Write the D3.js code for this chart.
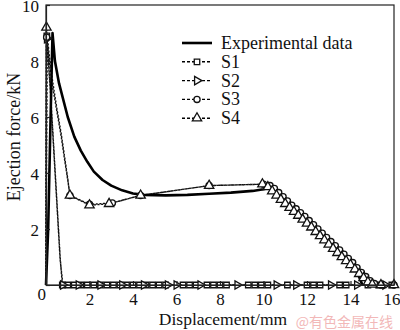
<!DOCTYPE html>
<html>
<head>
<meta charset="utf-8">
<script src="https://cdn.jsdelivr.net/npm/d3@7/dist/d3.min.js"></script>
<style>
  html, body { margin: 0; padding: 0; background: #fff; }
  svg { display: block; }
  text { font-family: "Liberation Serif", "Times New Roman", serif; fill: #111; }
</style>
</head>
<body>
<svg id="chart" width="400" height="330"></svg>
<script>
// Ejection force vs displacement: measured curve and four simulated schemes
const xTicks = [0, 2, 4, 6, 8, 10, 12, 14, 16];
const yTicks = [0, 2, 4, 6, 8, 10];

const expX = [0, 0.1, 0.2, 0.3, 0.41, 0.6, 1.0, 1.3, 1.6, 1.9, 2.2, 2.6, 3.0, 3.5, 4.0, 4.5, 5.5, 6.5, 7.5, 8.5, 9.5, 10.0, 10.4, 11.0, 12.0, 13.0, 13.7, 14.2, 14.55];
const expY = [0, 2.0, 5.6, 9.0, 8.0, 7.2, 6.0, 5.3, 4.8, 4.4, 4.05, 3.75, 3.55, 3.38, 3.27, 3.22, 3.2, 3.22, 3.26, 3.3, 3.36, 3.42, 3.5, 3.1, 2.4, 1.65, 1.15, 0.65, 0];

const s1X = [0, 0.04, 0.2, 0.35, 0.5, 0.65, 0.75, 1.0, 1.3, 1.6, 1.9, 2.2, 2.5, 2.8, 3.1, 3.4, 3.7, 4.0, 4.3, 4.6, 4.9, 5.2, 5.5, 6.3, 6.6, 6.9, 7.4, 7.7, 8.0, 8.3, 9.3, 9.6, 9.9, 10.2, 11.1, 12.0, 12.3, 12.6, 13.5, 13.8, 14.8, 15.3, 15.9];
const s1Y = [0, 8.9, 7.0, 5.0, 3.0, 1.0, 0, 0, 0, 0, 0, 0, 0, 0, 0, 0, 0, 0, 0, 0, 0, 0, 0, 0, 0, 0, 0, 0, 0, 0, 0, 0, 0, 0, 0, 0, 0, 0, 0, 0, 0, 0, 0];

const s2X = [0, 0.04, 0.2, 0.35, 0.5, 0.65, 0.78, 1.5, 2.5, 3.5, 4.5, 5.6, 6.0, 7.1, 8.8, 10.6, 11.5, 13.1, 14.3, 15.6];
const s2Y = [0, 8.8, 6.9, 4.9, 2.9, 0.9, 0, 0, 0, 0, 0, 0, 0, 0, 0, 0, 0, 0, 0, 0];

const s3X = [0, 0.03, 0.15, 0.3, 0.5, 0.7, 0.85, 1.0, 1.1, 2.0, 3.05, 4.35, 7.5, 10.0, 10.3, 10.5, 10.7, 10.9, 11.1, 11.3, 11.5, 11.7, 11.9, 12.1, 12.3, 12.5, 12.7, 12.9, 13.1, 13.3, 13.5, 13.7, 13.9, 14.1, 14.3, 14.5, 14.7, 14.9, 15.1, 15.4, 16.0];
const s3Y = [0, 8.85, 8.0, 7.1, 6.2, 5.3, 4.5, 3.75, 3.2, 2.88, 2.93, 3.2, 3.55, 3.6, 3.55, 3.45, 3.3, 3.15, 3.0, 2.85, 2.72, 2.58, 2.45, 2.3, 2.15, 2.0, 1.85, 1.7, 1.55, 1.4, 1.25, 1.1, 0.95, 0.8, 0.62, 0.45, 0.3, 0.15, 0.05, 0, 0];

const s4X = [0, 0.02, 0.15, 0.3, 0.5, 0.7, 0.85, 1.0, 1.1, 2.0, 2.9, 4.35, 7.5, 9.95, 10.2, 10.4, 10.6, 10.8, 11.0, 11.2, 11.4, 11.6, 11.8, 12.0, 12.2, 12.4, 12.6, 12.8, 13.0, 13.2, 13.4, 13.6, 13.8, 14.0, 14.2, 14.4, 14.6, 14.8, 15.0, 15.4, 16.0];
const s4Y = [0, 9.2, 8.2, 7.3, 6.3, 5.4, 4.6, 3.8, 3.2, 2.85, 2.9, 3.2, 3.55, 3.6, 3.5, 3.35, 3.2, 3.05, 2.9, 2.76, 2.62, 2.48, 2.34, 2.2, 2.06, 1.9, 1.75, 1.6, 1.45, 1.3, 1.15, 1.0, 0.86, 0.72, 0.56, 0.4, 0.25, 0.1, 0.02, 0, 0];

const seriesNames = ["S1", "S2", "S3", "S4"];
const expName = "Experimental data";
const xTitle = "Displacement/mm";
const yTitle = "Ejection force/kN";
const credit = "@有色金属在线";

const svg = d3.select("#chart");
const x = d3.scaleLinear().domain([0, 16]).range([46, 394]);
const y = d3.scaleLinear().domain([0, 10]).range([285, 5]);

const zip = (xs, ys) => xs.map((v, i) => [v, ys[i]]);
const line = d3.line().x(d => x(d[0])).y(d => y(d[1]));

// marker shapes per simulated scheme
const shapes = {
  S1: d3.symbol().type(d3.symbolSquare).size(30),
  S2: d3.symbol().type(d3.symbolTriangle).size(30),
  S3: d3.symbol().type(d3.symbolCircle).size(30),
  S4: d3.symbol().type(d3.symbolTriangle).size(38)
};
const rotation = { S1: 0, S2: 90, S3: 0, S4: 0 };

// markers are shown on the peak and on the recorded points after the initial drop
const sims = [
  { name: "S1", pts: zip(s1X, s1Y), markFrom: 0.7 },
  { name: "S2", pts: zip(s2X, s2Y), markFrom: 0.7 },
  { name: "S3", pts: zip(s3X, s3Y), markFrom: 1.05 },
  { name: "S4", pts: zip(s4X, s4Y), markFrom: 1.05 }
];

// dotted simulation curves
sims.forEach(s => {
  svg.append("path").datum(s.pts)
    .attr("d", line).attr("fill", "none")
    .attr("stroke", "#111").attr("stroke-width", 1.4)
    .attr("stroke-dasharray", "2,1.6");
});

// measured curve
svg.append("path").datum(zip(expX, expY))
  .attr("d", line).attr("fill", "none")
  .attr("stroke", "#000").attr("stroke-width", 2.6)
  .attr("stroke-linejoin", "round");

sims.forEach(s => {
  const peak = d3.maxIndex(s.pts, d => d[1]);
  const marked = s.pts.filter((d, i) => i === peak || d[0] >= s.markFrom);
  svg.append("g").selectAll("path").data(marked).join("path")
    .attr("d", shapes[s.name])
    .attr("transform", d => `translate(${x(d[0])},${y(d[1])}) rotate(${rotation[s.name]})`)
    .attr("fill", "#fff").attr("stroke", "#111").attr("stroke-width", 1.3);
});

// frame
svg.append("rect")
  .attr("x", x(0)).attr("y", y(10))
  .attr("width", x(16) - x(0)).attr("height", y(0) - y(10))
  .attr("fill", "none").attr("stroke", "#222").attr("stroke-width", 1.2);

// axes with inward ticks
const xAxis = svg.append("g").attr("transform", `translate(0,${y(0)})`)
  .call(d3.axisBottom(x).tickValues(xTicks).tickSizeInner(-4).tickSizeOuter(0).tickPadding(8)
    .tickFormat(d => d === 0 ? "" : d));
const yAxis = svg.append("g").attr("transform", `translate(${x(0)},0)`)
  .call(d3.axisLeft(y).tickValues(yTicks).tickSizeInner(-4).tickSizeOuter(0).tickPadding(7)
    .tickFormat(d => d));
[xAxis, yAxis].forEach(a => {
  a.select(".domain").attr("stroke", "#222").attr("stroke-width", 1.2);
  a.selectAll(".tick line").attr("stroke", "#222").attr("stroke-width", 1.2);
  a.selectAll(".tick text").style("font-size", "17px")
    .style("font-family", "'Liberation Serif', serif").attr("fill", "#111");
});
yAxis.selectAll(".tick text").attr("dy", "0.4em");
// the last x label is kept inside the page edge
xAxis.selectAll(".tick").filter(d => d === 16).select("text")
  .attr("text-anchor", "end").attr("x", 6);
// shared origin label sits in the corner
yAxis.selectAll(".tick").filter(d => d === 0).select("text")
  .attr("x", 0).attr("y", 8.6).attr("dy", "0.32em");

// axis titles
svg.append("text").attr("x", 223).attr("y", 325).attr("text-anchor", "middle")
  .style("font-size", "17.5px").text(xTitle);
svg.append("text").attr("transform", "translate(20,137) rotate(-90)")
  .attr("text-anchor", "middle").style("font-size", "18px").text(yTitle);

// legend
const legend = svg.append("g");
const rows = [{ name: expName, sim: false }].concat(seriesNames.map(n => ({ name: n, sim: true })));
rows.forEach((r, i) => {
  const cy = 43 + i * 18.8;
  const g = legend.append("g");
  g.append("line").attr("x1", 182).attr("x2", 212).attr("y1", cy).attr("y2", cy)
    .attr("stroke", "#000")
    .attr("stroke-width", r.sim ? 1.4 : 2.6)
    .attr("stroke-dasharray", r.sim ? "3,2" : null);
  if (r.sim) {
    g.append("path").attr("d", shapes[r.name])
      .attr("transform", `translate(197,${cy}) rotate(${rotation[r.name]})`)
      .attr("fill", "#fff").attr("stroke", "#111").attr("stroke-width", 1.3);
  }
  g.append("text").attr("x", 221).attr("y", cy + 6).style("font-size", "18px").text(r.name);
});

// credit line
svg.append("text").attr("x", 393).attr("y", 327).attr("text-anchor", "end")
  .style("font-size", "14px").style("font-family", "'Noto Sans CJK SC', sans-serif")
  .style("fill", "#f2b8b8").text(credit);
</script>
</body>
</html>
